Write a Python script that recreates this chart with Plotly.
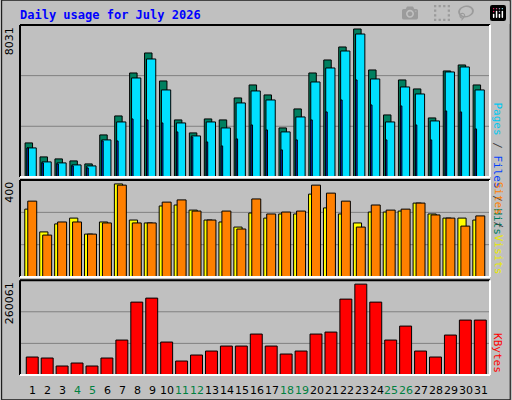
import plotly.graph_objects as go

days = list(range(1, 32))
hits_px = [143,157,159,161,164,135,116,73,53,81,120,133,119,120,98,85,95,128,109,73,60,47,29,70,115,80,89,118,71,65,85]
files_px = [148,162,163,165,166,140,122,78,59,90,123,136,122,128,103,91,100,132,117,82,68,51,34,79,122,87,94,121,72,67,90]
pages_px = [148,163,164,166,168,141,141,119,120,123,132,137,142,146,139,125,130,150,140,120,112,100,80,105,140,106,125,140,111,112,129]
hits = [round((177 - y) / 152 * 8031) for y in hits_px]
files = [round((177 - y) / 152 * 8031) for y in files_px]
pages = [round((177 - y) / 152 * 8031) for y in pages_px]
visits_px = [209,232,224,218,234,222,184,220,223,206,205,210,220,222,227,213,218,214,214,194,208,214,223,212,212,211,203,214,218,218,220]
sites_px = [201,235,222,222,234,223,185,223,223,202,200,211,220,211,229,199,214,212,211,185,193,201,227,205,210,209,203,215,218,226,216]
visits = [round((277 - y) / 97 * 400) for y in visits_px]
sites = [round((277 - y) / 97 * 400) for y in sites_px]
kb_px = [357,358,366,363,366,358,340,302,298,342,361,355,351,346,346,334,346,354,351,334,332,299,284,302,340,326,351,357,335,320,320]
kbytes = [round((375 - y) / 95 * 260061) for y in kb_px]
weekends = [4,5,11,12,18,19,25,26]

fig = go.Figure()
def bar(x, y, color, off, w, ax):
    fig.add_trace(go.Bar(x=x, y=y, marker=dict(color=color, line=dict(color="black", width=1)),
                         offset=off, width=w, xaxis="x", yaxis=ax, showlegend=False))
bar(days, hits, "#007F5F", -0.53, 0.5, "y")
bar(days, files, "#00E0FF", -0.4, 0.62, "y")
bar(days, pages, "#0040FF", -0.4, 0.1, "y")
bar(days, visits, "#FFFF00", -0.55, 0.55, "y2")
bar(days, sites, "#FF8000", -0.35, 0.6, "y2")
bar(days, kbytes, "#FF0000", -0.45, 0.8, "y3")

xr = [0.13, 31.6]
doms = {"y": [0.566, 1], "y2": [0.28, 0.557], "y3": [0, 0.271]}
rngs = {"y": 8031, "y2": 400, "y3": 260061}
shapes = []
annos = []
for ax, dom in doms.items():
    key = "yaxis" if ax == "y" else "yaxis" + ax[1]
    fig.layout[key] = dict(domain=dom, range=[0, rngs[ax]], showgrid=False, showticklabels=False,
                           zeroline=False, fixedrange=True)
    for f in (1/3, 2/3):
        yy = dom[0] + f * (dom[1] - dom[0])
        shapes.append(dict(type="line", xref="paper", yref="paper", x0=0, x1=1, y0=yy, y1=yy,
                           line=dict(color="#808080", width=1), layer="below"))
    shapes.append(dict(type="line", xref="paper", yref="paper", x0=0, x1=1, y0=dom[1], y1=dom[1], line=dict(color="black", width=2)))
    shapes.append(dict(type="line", xref="paper", yref="paper", x0=0, x1=0, y0=dom[0], y1=dom[1], line=dict(color="black", width=2)))
    shapes.append(dict(type="line", xref="paper", yref="paper", x0=0, x1=1, y0=dom[0], y1=dom[0], line=dict(color="white", width=2)))
    shapes.append(dict(type="line", xref="paper", yref="paper", x0=1, x1=1, y0=dom[0], y1=dom[1], line=dict(color="white", width=2)))
    annos.append(dict(xref="paper", yref="paper", x=-0.005, y=dom[1], xanchor="right", yanchor="top",
                      text=str(rngs[ax]), textangle=-90, showarrow=False,
                      font=dict(family="DejaVu Sans", size=11, color="black")))
shapes.append(dict(type="rect", xref="paper", yref="paper", x0=-0.039, x1=1.043, y0=-0.071, y1=1.071,
                   line=dict(color="black", width=1), layer="below"))
annos += [
    dict(xref="paper", yref="paper", x=1.035, y=0.783, textangle=90, showarrow=False,
         text="<span style='color:#00C8F0'>Pages</span> / <span style='color:#0040FF'>Files</span> / <span style='color:#007F5F'>Hits</span>",
         font=dict(family="DejaVu Sans Mono", size=11, color="#404040")),
    dict(xref="paper", yref="paper", x=1.035, y=0.418, textangle=90, showarrow=False,
         text="<span style='color:#FF8000'>Sites</span> / <span style='color:#E8E800'>Visits</span>",
         font=dict(family="DejaVu Sans Mono", size=11, color="#404040")),
    dict(xref="paper", yref="paper", x=1.035, y=0.0, yanchor="bottom", textangle=90, showarrow=False,
         text="KBytes", font=dict(family="DejaVu Sans Mono", size=11, color="#FF0000")),
    dict(xref="paper", yref="paper", x=-0.005, y=1.055, xanchor="left", showarrow=False,
         text="<b>Daily usage for July 2026</b>", font=dict(family="DejaVu Sans Mono", size=12, color="#0000FF")),
]
for d in days:
    annos.append(dict(x=d, xref="x", yref="paper", y=-0.02, yanchor="top", showarrow=False, text=str(d),
                      font=dict(family="DejaVu Sans", size=11, color="#008040" if d in weekends else "black")))

fig.update_layout(width=512, height=400, margin=dict(l=20, r=22, t=25, b=25),
                  paper_bgcolor="#C0C0C0", plot_bgcolor="#C0C0C0", barmode="overlay",
                  xaxis=dict(range=xr, showticklabels=False, showgrid=False, zeroline=False, fixedrange=True),
                  shapes=shapes, annotations=annos)
fig.write_html("out.html")
with open("out.html", encoding="utf-8") as fh:
    html = fh.read()
html = html.replace("<head>", "<head><style>html,body{margin:0;padding:0;overflow:hidden;}</style>", 1)
with open("out.html", "w", encoding="utf-8") as fh:
    fh.write(html)
